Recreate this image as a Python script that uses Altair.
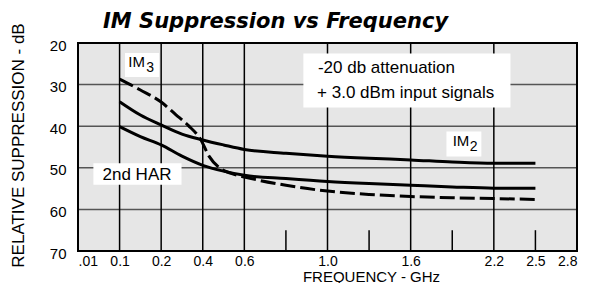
import altair as alt
import numpy as np
import pandas as pd

# Axis: non-uniform frequency scale (GHz) -> equally spaced slots
TICK_FREQ = [0.01, 0.1, 0.2, 0.4, 0.6, 0.8, 1.0, 1.3, 1.6, 1.9, 2.2, 2.5, 2.8]
LABEL_FREQ = [0.01, 0.1, 0.2, 0.4, 0.6, 1.0, 1.6, 2.2, 2.5, 2.8]
LABEL_TEXT = [".01", "0.1", "0.2", "0.4", "0.6", "1.0", "1.6", "2.2", "2.5", "2.8"]
GRID_FREQ = [0.1, 0.2, 0.4, 0.6, 1.0, 1.6, 2.2]
SHORT_TICK_FREQ = [0.8, 1.3, 1.9, 2.5]
Y_GRID = [30, 40, 50, 60]
Y_TICKS = [20, 30, 40, 50, 60, 70]

# Curves (frequency GHz, relative suppression dB)
freq_im2 = [0.1, 0.15, 0.2, 0.3, 0.4, 0.5, 0.6, 0.8, 1.0, 1.3, 1.6, 1.9, 2.2, 2.5]
im2 = [34.1, 37.3, 39.7, 41.9, 43.3, 44.5, 45.6, 46.5, 47.2, 47.7, 48.1, 48.6, 48.9, 48.9]

freq_har = [0.1, 0.15, 0.2, 0.3, 0.4, 0.5, 0.6, 0.8, 1.0, 1.3, 1.6, 1.9, 2.2, 2.5]
har2 = [40.1, 42.5, 44.5, 47.2, 49.4, 50.8, 51.8, 52.6, 53.3, 53.8, 54.2, 54.6, 54.9, 54.9]

freq_im3 = [0.1, 0.15, 0.2, 0.27, 0.33, 0.39, 0.43, 0.48, 0.54, 0.6, 0.8, 1.0, 1.3, 1.6, 1.9, 2.2, 2.5]
im3 = [28.7, 31.3, 34.2, 37.2, 39.8, 43.2, 47.2, 50.0, 51.4, 52.2, 54.2, 55.6, 56.4, 56.9, 57.2, 57.4, 57.6]

SLOTS = list(range(len(TICK_FREQ)))

FONT = "Liberation Sans"


def to_slot(f):
    return np.interp(f, TICK_FREQ, SLOTS)


W, H = 499, 208
xs = alt.Scale(domain=[0, 12], nice=False, zero=False)
ys = alt.Scale(domain=[20, 70], reverse=True, nice=False, zero=False)

mapping = {float(to_slot(f)): t for f, t in zip(LABEL_FREQ, LABEL_TEXT)}
expr = "''"
for k, t in reversed(list(mapping.items())):
    expr = f"datum.value == {k:g} ? '{t}' : ({expr})"

x_axis = alt.Axis(values=[float(to_slot(f)) for f in LABEL_FREQ], labelExpr=expr,
                  grid=False, ticks=False, domain=False, labelFont=FONT,
                  labelFontSize=14, labelColor="black", labelPadding=3,
                  title="FREQUENCY - GHz", titleFont=FONT, titleFontSize=15,
                  titleFontWeight="normal", titleColor="black", titleX=293, titleY=25,
                  titleAlign="center", titleBaseline="middle", labelFlush=True,
                  labelOverlap=False)
y_axis = alt.Axis(values=Y_TICKS, grid=False, ticks=False, domain=False,
                  labelFont=FONT, labelFontSize=15, labelColor="black",
                  labelPadding=12, labelOffset=2,
                  title="RELATIVE SUPPRESSION - dB", titleFont=FONT,
                  titleFontSize=17, titleFontWeight="normal", titleColor="black",
                  titleX=-60, titleY=102, titleAngle=-90, titleAlign="center",
                  titleBaseline="middle", labelFlush=False)

# gridlines
hgrid = alt.Chart(pd.DataFrame({"y": Y_GRID})).mark_rule(color="#555555", strokeWidth=1.5).encode(
    y=alt.Y("y:Q", scale=ys, axis=y_axis))
vgrid = alt.Chart(pd.DataFrame({"x": [float(to_slot(f)) for f in GRID_FREQ]})).mark_rule(
    color="black", strokeWidth=1.5).encode(x=alt.X("x:Q", scale=xs, axis=x_axis))
short = alt.Chart(pd.DataFrame({"x": [float(to_slot(f)) for f in SHORT_TICK_FREQ],
                                "y1": [65] * 4, "y2": [70] * 4})).mark_rule(
    color="black", strokeWidth=1.5).encode(x=alt.X("x:Q", scale=xs),
                                           y=alt.Y("y1:Q", scale=ys), y2="y2:Q")

# label boxes (annotation positions in data units)
box_df = pd.DataFrame({
    "x1": [1.13, 8.86, 0.37, 5.42],
    "x2": [1.95, 9.70, 2.49, 10.40],
    "y1": [22.4, 41.3, 48.9, 22.5],
    "y2": [28.2, 47.3, 54.1, 35.5],
})
boxes = alt.Chart(box_df).mark_rect(color="white").encode(
    x=alt.X("x1:Q", scale=xs), x2="x2:Q", y=alt.Y("y1:Q", scale=ys), y2="y2:Q")

# curves
df_im2 = pd.DataFrame({"x": to_slot(freq_im2), "y": im2})
df_har = pd.DataFrame({"x": to_slot(freq_har), "y": har2})
df_im3 = pd.DataFrame({"x": to_slot(freq_im3), "y": im3})
line_im2 = alt.Chart(df_im2).mark_line(color="black", strokeWidth=3, interpolate="monotone").encode(
    x=alt.X("x:Q", scale=xs), y=alt.Y("y:Q", scale=ys))
line_har = alt.Chart(df_har).mark_line(color="black", strokeWidth=3, interpolate="monotone").encode(
    x=alt.X("x:Q", scale=xs), y=alt.Y("y:Q", scale=ys))
line_im3 = alt.Chart(df_im3).mark_line(color="black", strokeWidth=3, interpolate="monotone",
                                       strokeDash=[15, 5]).encode(
    x=alt.X("x:Q", scale=xs), y=alt.Y("y:Q", scale=ys))

# texts
txt_main = pd.DataFrame({
    "x": [1.21, 9.01],
    "y": [24.6, 43.6],
    "t": ["IM", "IM"],
})
im_txt = alt.Chart(txt_main).mark_text(align="left", baseline="middle", font=FONT,
                                       fontSize=15, color="black").encode(
    x=alt.X("x:Q", scale=xs), y=alt.Y("y:Q", scale=ys), text="t:N")
txt_sub = pd.DataFrame({"x": [1.64, 9.42], "y": [26.0, 45.1], "t": ["3", "2"]})
subs = alt.Chart(txt_sub).mark_text(align="left", baseline="middle", font=FONT,
                                    fontSize=14, color="black").encode(
    x=alt.X("x:Q", scale=xs), y=alt.Y("y:Q", scale=ys), text="t:N")
txt_note = pd.DataFrame({
    "x": [0.59, 5.77, 5.75],
    "y": [51.8, 26.0, 32.1],
    "t": ["2nd HAR", "-20 db attenuation", "+ 3.0 dBm input signals"],
})
notes = alt.Chart(txt_note).mark_text(align="left", baseline="middle", font=FONT,
                                      fontSize=17, color="black").encode(
    x=alt.X("x:Q", scale=xs), y=alt.Y("y:Q", scale=ys), text="t:N")

title = alt.Chart(pd.DataFrame({"t": ["IM Suppression vs Frequency"]})).mark_text(
    align="left", baseline="alphabetic", font="DejaVu Sans", fontSize=21,
    fontStyle="italic", fontWeight="bold", color="black").encode(
    x=alt.value(25), y=alt.value(-15), text="t:N")

border = alt.Chart(pd.DataFrame({"a": [0]})).mark_rect(fill=None, stroke="black", strokeWidth=2).encode(
    x=alt.value(0), x2=alt.value(W), y=alt.value(0), y2=alt.value(H))

chart = alt.layer(hgrid, vgrid, short, boxes, line_im2, line_har, line_im3,
                  im_txt, subs, notes, title, border).properties(
    width=W, height=H,
    autosize=alt.AutoSizeParams(type="none"),
    padding={"left": 70, "top": 35, "right": 4, "bottom": 32},
    background="white",
).configure_view(fill="#e6e6e6", stroke=None)

chart.save("out.html", embed_options={"renderer": "svg", "actions": False})
